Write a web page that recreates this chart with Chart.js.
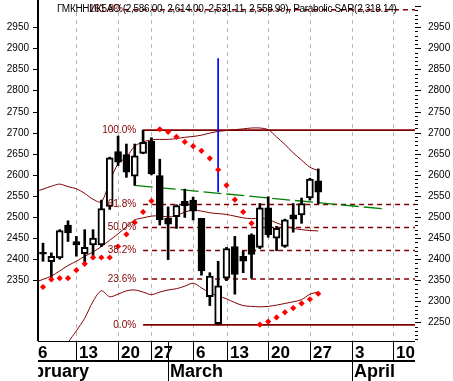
<!DOCTYPE html>
<html>
<head>
<meta charset="utf-8">
<script src="https://cdn.jsdelivr.net/npm/chart.js@4.4.1/dist/chart.umd.min.js"></script>
<style>
  html, body { margin: 0; padding: 0; background: #fff; }
  canvas { display: block; }
</style>
</head>
<body>
<canvas id="chart" width="453" height="381"></canvas>
<script>
/*
Candlestick chart with parabolic SAR, bands, fibonacci levels and a trend line.
x = trading day index, 0 = Mon Feb 6 (Feb 23 and Mar 8 are holidays, skipped)
*/

let title = "ГМКННИК5АО (2,586.00, 2,614.00, 2,531.11, 2,558.99), Parabolic SAR(2,318.14)"

// candles
let days   = [1,2,3,4,5,6,7,8,9,10,11,12,13,14,15,16,17,18,19,20,21,22,23,24,25,26,27,28,29,30,31,32,33,34]
let opens  = [2416,2394,2403,2481,2442,2413,2434,2434,2525,2655,2648,2597,2651,2680,2598,2497,2501,2537,2540,2497,2311,2247,2355,2430,2407,2458,2428,2522,2450,2430,2505,2505,2545,2586]
let highs  = [2438,2415,2470,2491,2454,2470,2470,2540,2642,2692,2673,2673,2706,2688,2637,2524,2529,2566,2547,2497,2368,2395,2428,2454,2419,2460,2532,2548,2478,2495,2532,2545,2592,2614]
let lows   = [2395,2352,2400,2442,2407,2388,2407,2430,2518,2622,2594,2575,2650,2600,2481,2399,2473,2499,2493,2362,2290,2244,2349,2317,2368,2355,2425,2452,2420,2428,2464,2485,2540,2531]
let closes = [2412,2407,2468,2462,2434,2428,2450,2520,2640,2630,2606,2645,2677,2602,2493,2483,2527,2527,2514,2372,2360,2337,2425,2364,2395,2411,2522,2458,2473,2493,2495,2532,2590,2559]

// parabolic SAR dots
let sar = [2334,2352,2355,2355,2374,2389,2404,2404,2404,2430,2459,2487,2512,2538,2708,2702,2690,2678,2668,2657,2639,2612,2575,2541,2512,2485,2245,2252,2262,2274,2284,2295,2305,2318]

// bands
let bandDays  = [0,1,2,3,4,5,6,7,8,9,10,11,12,13,14,15,16,17,18,19,20,21,22,23,24,25,26,27,28,29,30,31,32,33,34]
let upperBand = [2560,2566,2573,2578,2572,2567,2556,2542,2536,2585,2626,2642,2668,2678,2683,2684,2684,2686,2689,2691,2694,2699,2703,2705,2707,2709,2711,2711,2707,2690,2672,2652,2635,2618,2610]
let midBand   = [2345,2352,2360,2372,2385,2395,2407,2417,2430,2445,2460,2477,2493,2498,2502,2503,2500,2503,2512,2516,2514,2510,2508,2506,2502,2498,2496,2497,2494,2486,2479,2473,2470,2468,2467]
let lowerBand = [2090,2110,2135,2165,2202,2230,2260,2300,2325,2311,2317,2325,2327,2322,2316,2322,2327,2330,2336,2343,2332,2320,2313,2306,2297,2290,2288,2287,2288,2291,2295,2299,2304,2317,2322]

// fibonacci retracement
let fibLabels = ["0.0%","23.6%","38.2%","50.0%","61.8%","100.0%","161.8%"]
let fibPrices = [2244,2353,2420.5,2475,2529.5,2706,2991.5]
let fibStart  = [13,13,13,13,13,13,10.7]
let fibDashed = [false,true,true,true,true,false,true]

// trend line and marker
let trendX = [12, 42]
let trendY = [2575, 2519]
let markX = [22, 22]
let markY = [2876, 2559]

// axes
let weekTicks  = [0,5,10,14,19,23,28,33,38,43]
let weekLabels = ["6","13","20","27","6","13","20","27","3","10"]
let monthTicks  = [-3,16,38]
let monthLabels = ["February","March","April"]
let leftTicks  = [2350,2400,2450,2500,2550,2600,2650,2700,2750,2800,2850,2900,2950]
let rightTicks = [2250,2300,2350,2400,2450,2500,2550,2600,2650,2700,2750,2800,2850,2900,2950]

const X_MIN = 0.4, X_MAX = 45.6
const DARK_RED = "#800000"

const pts = (xs, ys) => xs.map((x, i) => ({x: x, y: ys[i]}))

let datasets = []

// sar on top
datasets.push({
    type: "line", data: pts(days, sar), showLine: false,
    pointStyle: "rectRot", pointRadius: 3.1, pointBorderWidth: 0,
    pointBackgroundColor: "#ff0000", order: 0
})

// candle bodies
datasets.push({
    type: "bar",
    data: days.map((d, i) => ({x: d, y: [Math.min(opens[i], closes[i]), Math.max(opens[i], closes[i])]})),
    backgroundColor: days.map((d, i) => closes[i] >= opens[i] ? "#ffffff" : "#000000"),
    borderColor: "#000000", borderWidth: 2, borderSkipped: false,
    barThickness: 7, grouped: false, order: 1
})

// wicks
datasets.push({
    type: "bar",
    data: days.map((d, i) => ({x: d, y: [lows[i], highs[i]]})),
    backgroundColor: "#000000", borderWidth: 0,
    barThickness: 2, grouped: false, order: 2
})

// blue marker
datasets.push({
    type: "line", data: pts(markX, markY), borderColor: "#0000ff",
    borderWidth: 1, pointRadius: 0, order: 3
})

// green trend line
datasets.push({
    type: "line", data: pts(trendX, trendY), borderColor: "#008000",
    borderWidth: 1.3, borderDash: [18, 5], pointRadius: 0, order: 4
})

// bands
;[upperBand, midBand, lowerBand].forEach(b => {
    datasets.push({
        type: "line", data: pts(bandDays, b), borderColor: DARK_RED,
        borderWidth: 1, pointRadius: 0, tension: 0.3, order: 5
    })
})

// fib levels
fibPrices.forEach((p, i) => {
    datasets.push({
        type: "line", data: [{x: fibStart[i], y: p}, {x: X_MAX, y: p}],
        borderColor: DARK_RED, borderWidth: fibDashed[i] ? 1.4 : 1.8,
        borderDash: fibDashed[i] ? [5, 4] : [], pointRadius: 0, order: 6
    })
})

const decor = {
    id: "decor",
    beforeDatasetsDraw(chart) {
        const {ctx, chartArea: a, scales: {x}} = chart
        ctx.save()
        ctx.strokeStyle = "#b8b8b8"
        ctx.lineWidth = 1
        ctx.setLineDash([4, 4])
        weekTicks.forEach(t => {
            const px = Math.round(x.getPixelForValue(t)) + 0.5
            if (px < a.left || px > a.right) return
            ctx.beginPath()
            ctx.moveTo(px, a.top)
            ctx.lineTo(px, a.bottom)
            ctx.stroke()
        })
        ctx.restore()
    },
    afterDraw(chart) {
        const {ctx, chartArea: a, scales: {x, y}} = chart
        ctx.save()
        ctx.fillStyle = "#000"

        // left axis
        ctx.fillRect(a.left - 1, 0, 2, a.bottom)
        ctx.font = "10px Arial"
        ctx.textAlign = "right"
        ctx.textBaseline = "middle"
        leftTicks.forEach(v => {
            const py = Math.round(y.getPixelForValue(v))
            ctx.fillRect(a.left - 5, py, 5, 1)
            ctx.fillText(String(v), a.left - 9, py + 0.5)
        })

        // right axis, minor tick every 10
        for (let v = 2210; v <= 3000; v += 10) {
            const py = Math.round(y.getPixelForValue(v))
            if (v % 50 == 0) ctx.fillRect(a.right, py, 6, 1)
            else ctx.fillRect(a.right, py, 3, 1)
        }
        ctx.textAlign = "left"
        rightTicks.forEach(v => {
            const py = Math.round(y.getPixelForValue(v))
            ctx.fillText(String(v), a.right + 13, py + 0.5)
        })

        // fib labels
        ctx.fillStyle = DARK_RED
        ctx.textAlign = "right"
        fibPrices.forEach((p, i) => {
            const py = y.getPixelForValue(p)
            const px = fibStart[i] == 13 ? x.getPixelForValue(13) - 7 : x.getPixelForValue(fibStart[i]) - 1
            ctx.fillText(fibLabels[i], px, Math.max(py, 6))
        })

        // title
        ctx.fillStyle = "#000"
        ctx.textAlign = "left"
        ctx.textBaseline = "alphabetic"
        ctx.font = "10px Arial"
        const w = ctx.measureText(title).width
        ctx.letterSpacing = ((340 - w) / (title.length - 1)).toFixed(2) + "px"
        ctx.fillText(title, 57, 12)
        ctx.letterSpacing = "0px"

        // bottom date strip
        ctx.beginPath()
        ctx.rect(a.left, a.bottom, a.right - a.left, 381 - a.bottom)
        ctx.clip()
        ctx.fillRect(a.left - 1, a.bottom - 1, a.right - a.left + 1, 2)
        ctx.fillRect(a.left - 1, a.bottom + 19, a.right - a.left + 1, 2)
        ctx.font = "bold 17px Arial"
        weekTicks.forEach((t, i) => {
            const px = Math.round(x.getPixelForValue(t))
            ctx.fillRect(px, a.bottom, 1, 20)
            ctx.fillText(weekLabels[i], px + 3, a.bottom + 16.5)
        })
        ctx.font = "bold 18px Arial"
        monthTicks.forEach((t, i) => {
            const px = Math.round(x.getPixelForValue(t))
            ctx.fillRect(px, a.bottom, 1, 40)
            ctx.fillText(monthLabels[i], px + 2, a.bottom + 36)
        })
        ctx.restore()
    }
}

new Chart("chart", {
    data: {datasets: datasets},
    options: {
        responsive: false,
        animation: false,
        devicePixelRatio: 1,
        layout: {padding: {left: 38, right: 38, top: 0, bottom: 40}},
        scales: {
            x: {type: "linear", min: X_MIN, max: X_MAX, offset: false, display: false},
            y: {type: "linear", min: 2206, max: 3005, display: false}
        },
        plugins: {legend: {display: false}, tooltip: {enabled: false}}
    },
    plugins: [decor]
})
</script>
</body>
</html>
